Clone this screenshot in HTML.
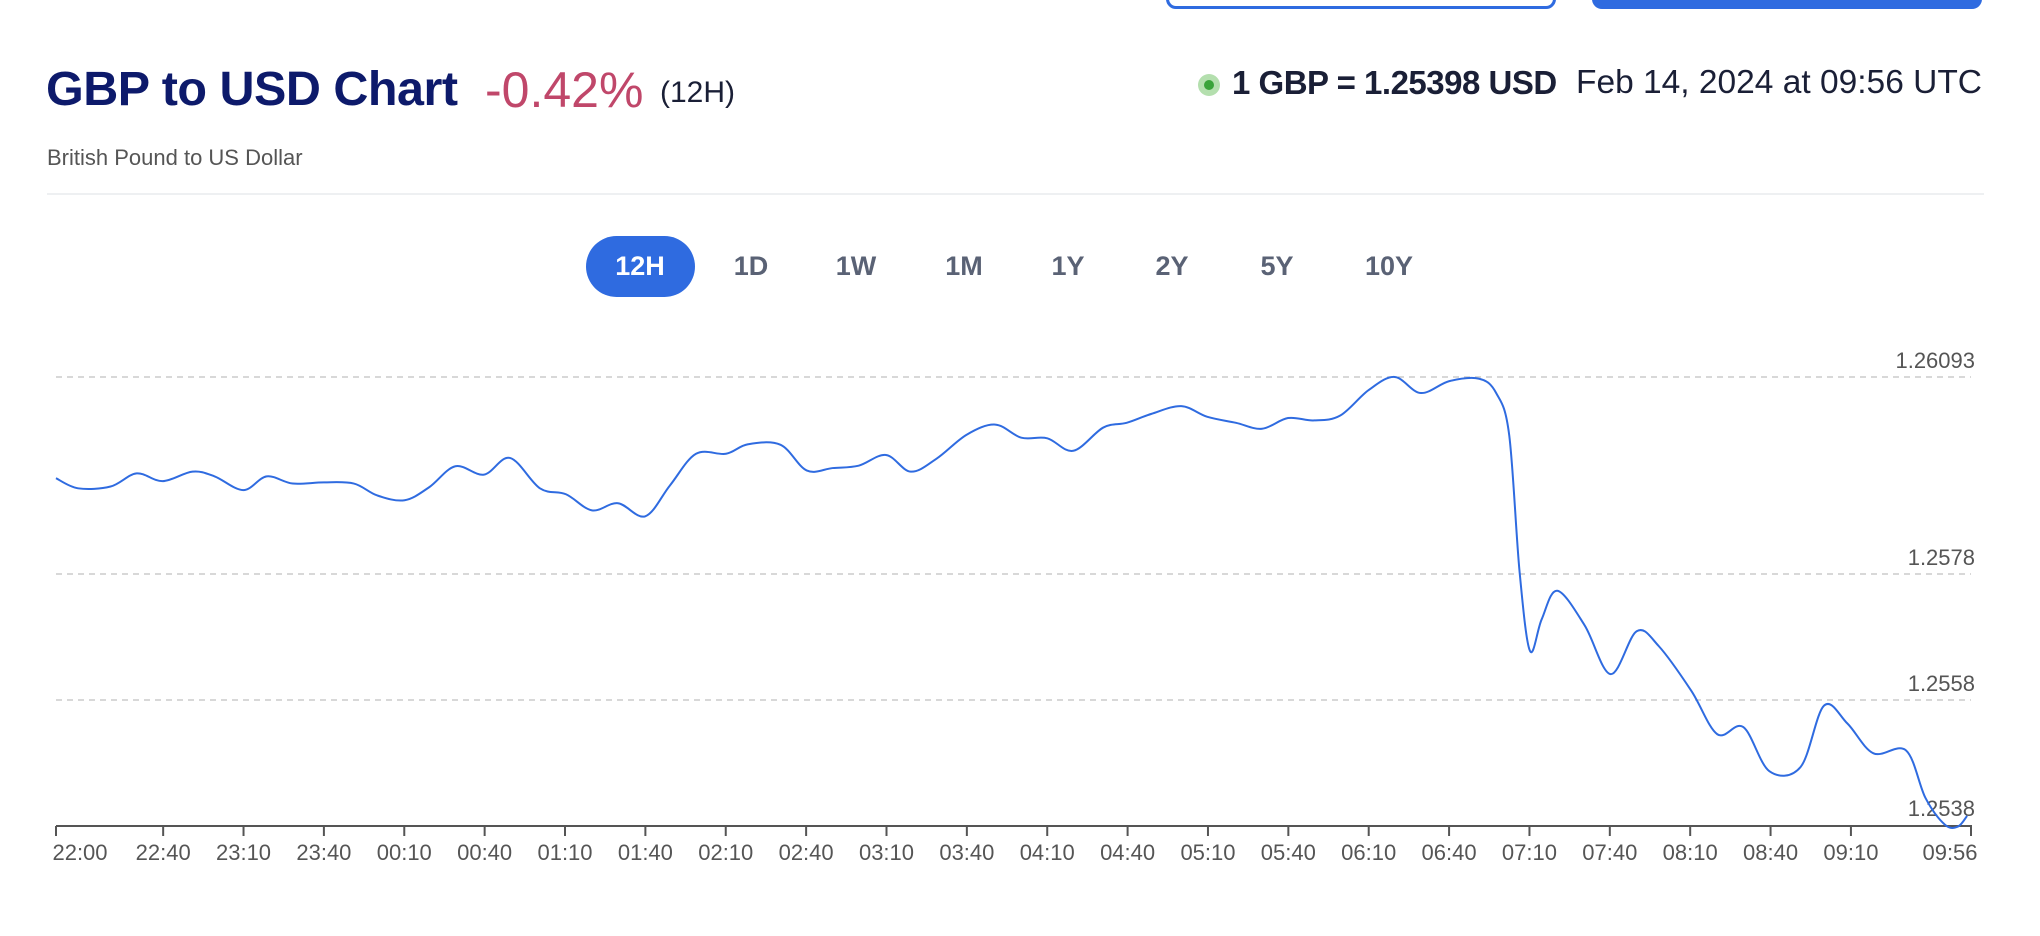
<!DOCTYPE html>
<html><head><meta charset="utf-8"><style>
*{margin:0;padding:0;box-sizing:border-box}
body{width:2040px;height:936px;background:#fff;position:relative;overflow:hidden;font-family:"Liberation Sans",Arial,sans-serif}
.a{position:absolute;white-space:nowrap}
.tab{position:absolute;top:236px;height:61px;line-height:61px;font-weight:bold;font-size:27px;color:#5a6275;text-align:center;width:80px;margin-left:-40px}
.yl{position:absolute;right:65px;font-size:22px;color:#555}
.xl{position:absolute;top:840px;font-size:22px;color:#555;width:80px;margin-left:-40px;text-align:center}
</style></head><body>
<div class="a" style="left:1166px;top:-20px;width:390px;height:29px;border:3px solid #2f6be0;border-radius:10px"></div>
<div class="a" style="left:1592px;top:-20px;width:390px;height:29px;background:#2f6be0;border-radius:10px"></div>
<div class="a" style="left:46px;top:61px;font-size:48.5px;font-weight:bold;color:#0d1a6b;letter-spacing:-0.5px">GBP to USD Chart</div>
<div class="a" style="left:485px;top:61px;font-size:50px;color:#c0476a">-0.42%</div>
<div class="a" style="left:660px;top:76px;font-size:30px;color:#1a1f36">(12H)</div>
<div class="a" style="left:47px;top:145px;font-size:22px;color:#555">British Pound to US Dollar</div>
<div class="a" style="left:1198px;top:74px;width:22px;height:22px;border-radius:50%;background:#b4dfae"></div>
<div class="a" style="left:1204px;top:80px;width:10px;height:10px;border-radius:50%;background:#3aa33a"></div>
<div class="a" style="left:1232px;top:64px;font-size:33px;font-weight:bold;color:#1a1f36;letter-spacing:-0.5px">1 GBP = 1.25398 USD</div>
<div class="a" style="left:1576px;top:64px;font-size:33.5px;color:#1a1f36">Feb 14, 2024 at 09:56 UTC</div>
<div class="a" style="left:47px;top:193px;width:1937px;height:2px;background:#eef0f2"></div>
<div class="a" style="left:586px;top:236px;width:109px;height:61px;border-radius:31px;background:#2f6be0"></div>
<div class="tab" style="left:640px;color:#fff">12H</div>
<div class="tab" style="left:751px">1D</div>
<div class="tab" style="left:856px">1W</div>
<div class="tab" style="left:964px">1M</div>
<div class="tab" style="left:1068px">1Y</div>
<div class="tab" style="left:1172px">2Y</div>
<div class="tab" style="left:1277px">5Y</div>
<div class="tab" style="left:1389px">10Y</div>
<div class="yl" style="top:348px">1.26093</div>
<div class="yl" style="top:545px">1.2578</div>
<div class="yl" style="top:671px">1.2558</div>
<div class="yl" style="top:796px">1.2538</div>
<svg class="a" style="left:0;top:0" width="2040" height="936">
<g stroke="#ccc" stroke-width="1.5" stroke-dasharray="6,5">
<line x1="56" y1="377" x2="1971" y2="377"/><line x1="56" y1="574" x2="1971" y2="574"/><line x1="56" y1="700" x2="1971" y2="700"/></g>
<line x1="56" y1="826" x2="1972" y2="826" stroke="#555" stroke-width="2"/>
<g id="ticks" stroke="#555" stroke-width="2"></g>
<path id="ln" fill="none" stroke="#2f6be0" stroke-width="2" stroke-linejoin="round"/>
</svg>
<div id="xls"></div>
<script>
var p=[[43,803],[60,820],[85,817],[105,795],[125,808],[148,792],[165,800],[187,823],[205,800],[225,812],[249,810],[272,812],[290,832],[311,840],[330,818],[350,783],[372,797],[392,769],[415,820],[435,830],[455,857],[475,845],[496,867],[515,815],[535,762],[558,762],[575,746],[600,747],[620,790],[640,786],[660,782],[681,764],[700,792],[720,770],[743,730],[765,713],[785,735],[805,736],[825,757],[848,718],[866,710],[885,695],[908,682],[928,700],[950,710],[970,720],[990,702],[1010,706],[1030,698],[1052,655],[1072,633],[1092,660],[1114,640],[1137,636],[1150,660],[1160,730],[1168,960],[1176,1093],[1185,1040],[1197,992],[1218,1050],[1238,1132],[1258,1060],[1275,1085],[1300,1160],[1320,1233],[1340,1221],[1360,1295],[1384,1288],[1402,1185],[1420,1215],[1440,1265],[1465,1260],[1480,1340],[1495,1385],[1505,1388],[1512,1370]];
p=p.map(function(q){return [q[0]*1.301,q[1]*0.5955]});
var d="M"+p[0][0]+","+p[0][1];
for(var i=0;i<p.length-1;i++){var p0=p[i-1]||p[i],p1=p[i],p2=p[i+1],p3=p[i+2]||p2;
d+=" C"+(p1[0]+(p2[0]-p0[0])/6)+","+(p1[1]+(p2[1]-p0[1])/6)+" "+(p2[0]-(p3[0]-p1[0])/6)+","+(p2[1]-(p3[1]-p1[1])/6)+" "+p2[0]+","+p2[1];}
document.getElementById("ln").setAttribute("d",d);
var L=["22:00","22:40","23:10","23:40","00:10","00:40","01:10","01:40","02:10","02:40","03:10","03:40","04:10","04:40","05:10","05:40","06:10","06:40","07:10","07:40","08:10","08:40","09:10"];
var g=document.getElementById("ticks"),h="",t="";
for(var k=0;k<L.length;k++){var x=k==0?56:56+(40+(k-1)*30)*2.679;h+='<line x1="'+x+'" y1="826" x2="'+x+'" y2="836"/>';t+='<div class="xl" style="left:'+(k==0?80:x)+'px">'+L[k]+'</div>';}
h+='<line x1="1971" y1="826" x2="1971" y2="836"/>';t+='<div class="xl" style="left:1950px">09:56</div>';
g.innerHTML=h;document.getElementById("xls").innerHTML=t;
</script>
</body></html>
